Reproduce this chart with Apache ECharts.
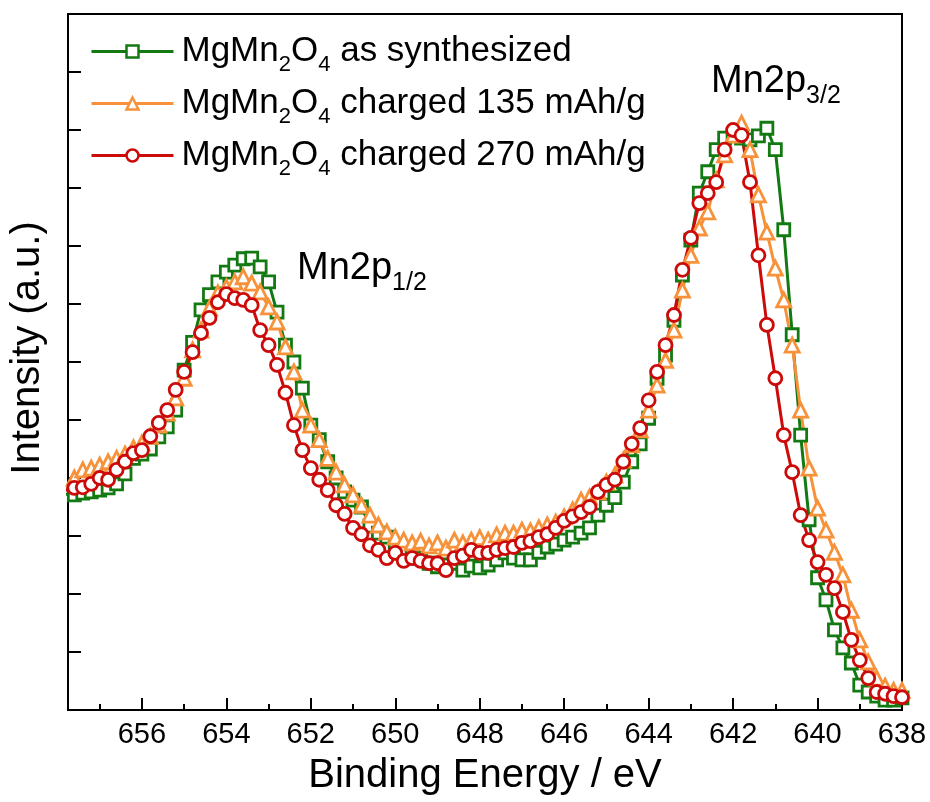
<!DOCTYPE html>
<html lang="en">
<head>
    <meta charset="UTF-8">
    <title>MgMn2O4 Mn2p XPS</title>
    <script src="https://cdn.jsdelivr.net/npm/echarts@6/dist/echarts.min.js"></script>
    <style>
        html, body { margin: 0; padding: 0; background: #fff; }
        #container { width: 930px; height: 802px; }
    </style>
</head>
<body>
<div id="container"></div>
<script type="text/javascript">

    // binding energy grid: 657.8 eV down to 638.0 eV, 0.2 eV step
    var energyStart = 657.8;
    var energyStep = 0.2;

    // intensity (a.u.), one value per grid point
    var asSynthesized = [
        3.72, 3.71, 3.74, 3.76, 3.79, 3.83, 3.90, 4.07, 4.34, 4.41,
        4.50, 4.71, 4.88, 5.17, 5.86, 6.34, 6.90, 7.16, 7.38, 7.55,
        7.67, 7.78, 7.79, 7.64, 7.38, 6.86, 6.29, 6.00, 5.55, 4.91,
        4.66, 4.28, 4.00, 3.76, 3.62, 3.50, 3.17, 3.05, 2.98, 2.84,
        2.76, 2.66, 2.62, 2.53, 2.47, 2.50, 2.53, 2.41, 2.48, 2.45,
        2.50, 2.59, 2.71, 2.62, 2.59, 2.59, 2.72, 2.81, 2.86, 2.93,
        2.98, 3.05, 3.14, 3.36, 3.53, 3.66, 3.93, 4.28, 4.59, 5.03,
        5.72, 6.12, 6.72, 7.50, 8.10, 8.91, 9.28, 9.66, 9.86, 9.91,
        9.86, 9.83, 9.90, 10.03, 9.66, 8.28, 6.47, 4.74, 3.28, 2.28,
        1.90, 1.38, 1.07, 0.81, 0.43, 0.31, 0.24, 0.17, 0.17, 0.21
    ];
    var charged135 = [
        3.79, 4.00, 4.14, 4.17, 4.22, 4.28, 4.34, 4.41, 4.52, 4.60,
        4.72, 4.91, 5.12, 5.38, 5.72, 6.21, 6.55, 6.93, 7.19, 7.29,
        7.38, 7.47, 7.36, 7.21, 6.95, 6.69, 6.26, 5.83, 5.17, 4.91,
        4.66, 4.34, 4.10, 3.88, 3.71, 3.53, 3.36, 3.19, 3.07, 2.98,
        2.93, 2.88, 2.91, 2.83, 2.88, 2.79, 2.93, 2.88, 2.93, 2.97,
        2.93, 3.02, 3.05, 3.05, 3.10, 3.09, 3.14, 3.19, 3.24, 3.33,
        3.45, 3.62, 3.67, 3.76, 3.93, 4.05, 4.31, 4.57, 4.83, 5.17,
        5.60, 6.03, 6.55, 7.24, 7.84, 8.31, 8.59, 9.14, 9.57, 9.91,
        10.12, 9.66, 8.88, 8.24, 7.62, 7.07, 6.29, 5.17, 4.17, 3.48,
        3.10, 2.72, 2.33, 1.72, 1.21, 0.83, 0.55, 0.41, 0.34, 0.34
    ];
    var charged270 = [
        3.79, 3.83, 3.84, 3.90, 4.00, 3.97, 4.14, 4.28, 4.43, 4.48,
        4.72, 4.95, 5.17, 5.52, 5.83, 6.17, 6.50, 6.76, 7.03, 7.17,
        7.10, 7.07, 6.98, 6.55, 6.29, 5.95, 5.47, 4.91, 4.48, 4.17,
        3.97, 3.79, 3.53, 3.38, 3.14, 3.03, 2.84, 2.76, 2.62, 2.71,
        2.57, 2.62, 2.57, 2.53, 2.53, 2.41, 2.62, 2.66, 2.76, 2.71,
        2.71, 2.76, 2.79, 2.81, 2.88, 2.91, 2.98, 3.03, 3.14, 3.26,
        3.34, 3.41, 3.50, 3.76, 3.88, 3.97, 4.28, 4.59, 4.86, 5.34,
        5.83, 6.29, 6.81, 7.59, 8.14, 8.74, 8.91, 9.10, 9.66, 10.00,
        9.91, 9.10, 7.84, 6.64, 5.72, 4.74, 4.10, 3.36, 2.93, 2.55,
        2.33, 2.10, 1.69, 1.21, 0.86, 0.55, 0.31, 0.28, 0.24, 0.22
    ];

    var seriesNames = ['syn', 'c135', 'c270'];
    var seriesLabels = {
        syn: ' as synthesized',
        c135: ' charged 135 mAh/g',
        c270: ' charged 270 mAh/g'
    };
    var xTicks = [638, 640, 642, 644, 646, 648, 650, 652, 654, 656];

    var FONT = 'Arial, "Liberation Sans", sans-serif';

    function pairs(values) {
        var out = [];
        for (var i = 0; i < values.length; i++) {
            var e = Math.round((energyStart - i * energyStep) * 10) / 10;
            out.push([e, values[i]]);
        }
        return out;
    }

    function makeSeries(name, values, color, symbol, size) {
        return {
            name: name,
            type: 'line',
            data: pairs(values),
            symbol: symbol,
            symbolSize: size,
            showAllSymbol: true,
            lineStyle: { color: color, width: 3 },
            itemStyle: { color: '#fff', borderColor: color, borderWidth: 2.8 },
            emphasis: { disabled: true },
            animation: false,
            z: 2
        };
    }

    // peak label with a lowered subscript
    function peakLabel(left, top, sub) {
        return {
            type: 'text', left: left, top: top, z: 10,
            style: {
                text: '{m|Mn2p}{s|' + sub + '}',
                rich: {
                    m: { fontSize: 38, lineHeight: 44, fill: '#000', fontFamily: FONT },
                    s: { fontSize: 25, height: 16, fill: '#000', fontFamily: FONT, verticalAlign: 'bottom' }
                }
            }
        };
    }

    var myChart = echarts.init(document.getElementById('container'));

    myChart.setOption({
        backgroundColor: '#fff',
        animation: false,
        grid: {
            left: 68, right: 28, top: 14, bottom: 92,
            show: true, borderColor: '#000', borderWidth: 2
        },
        legend: {
            orient: 'vertical',
            left: 90, top: 34,
            padding: 0,
            itemWidth: 82, itemHeight: 15, itemGap: 10,
            data: seriesNames,
            lineStyle: { width: 3 },
            itemStyle: { borderWidth: 2.5 },
            formatter: function (name) {
                return '{t|MgMn}{s|2}{t|O}{s|4}{t|' + seriesLabels[name] + '}';
            },
            textStyle: {
                padding: [0, 0, 0, 3],
                rich: {
                    t: { fontSize: 35, lineHeight: 36, color: '#000', fontFamily: FONT },
                    s: { fontSize: 22, height: 9, color: '#000', fontFamily: FONT, verticalAlign: 'bottom' }
                }
            }
        },
        xAxis: {
            type: 'value',
            inverse: true,
            min: 638, max: 657.75, interval: 2,
            name: 'Binding Energy / eV',
            nameLocation: 'middle',
            nameGap: 46,
            nameTextStyle: { fontSize: 40, color: '#000', fontFamily: FONT },
            axisLine: { lineStyle: { color: '#000', width: 2 } },
            axisTick: { inside: true, length: 12, lineStyle: { color: '#000', width: 2 } },
            minorTick: { show: true, splitNumber: 2, length: 6, lineStyle: { color: '#000', width: 2 } },
            axisLabel: {
                fontSize: 29, color: '#000', fontFamily: FONT, margin: 10,
                formatter: function (v) { return xTicks.indexOf(v) >= 0 ? String(v) : ''; }
            },
            splitLine: { show: false }
        },
        yAxis: {
            type: 'value',
            min: 0, max: 12, interval: 1,
            name: 'Intensity (a.u.)',
            nameLocation: 'middle',
            nameGap: 20,
            nameTextStyle: { fontSize: 40, color: '#000', fontFamily: FONT, padding: [0, 0, 0, 28] },
            axisLine: { lineStyle: { color: '#000', width: 2 } },
            axisTick: { inside: true, length: 13, lineStyle: { color: '#000', width: 2 } },
            axisLabel: { show: false },
            splitLine: { show: false }
        },
        graphic: [
            peakLabel(297, 250, '1/2'),
            peakLabel(711, 63, '3/2')
        ],
        series: [
            makeSeries('syn', asSynthesized, '#137a13', 'rect', 12),
            makeSeries('c135', charged135, '#f7923a', 'triangle', 14),
            makeSeries('c270', charged270, '#cc0a0a', 'circle', 13)
        ]
    });
</script>
</body>
</html>
